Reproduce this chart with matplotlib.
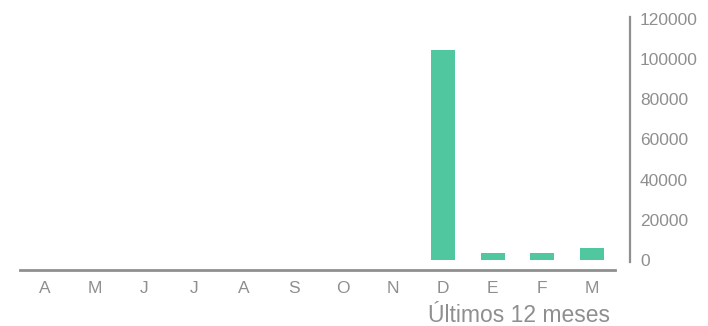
import matplotlib.pyplot as plt

meses = ["A", "M", "J", "J", "A", "S", "O", "N", "D", "E", "F", "M"]
valores = [0, 0, 0, 0, 0, 0, 0, 0, 104500, 3500, 3500, 6000]
yticks = [0, 20000, 40000, 60000, 80000, 100000, 120000]

cinza = "#8f8f8f"
verde = "#50c79f"

plt.rcParams["font.family"] = ["Liberation Sans", "DejaVu Sans"]

fig = plt.figure(figsize=(7.08, 3.26), dpi=100)
ax = fig.add_axes([20 / 708, 56 / 326, 595 / 708, 253 / 326])

x = list(range(len(meses)))
ax.bar(x, valores, width=0.48, color=verde)

ax.set_xlim(-0.5, 11.46)
ax.set_ylim(-5000, 121000)

ax.set_xticks(x)
ax.set_xticklabels(meses)
ax.set_yticks(yticks)

for s in ["top", "left"]:
    ax.spines[s].set_visible(False)
ax.spines["bottom"].set_color(cinza)
ax.spines["bottom"].set_linewidth(2)
ax.spines["right"].set_color(cinza)
ax.spines["right"].set_linewidth(1.6)
ax.spines["right"].set_position(("outward", 11))
ax.spines["right"].set_bounds(-800, 121000)

ax.yaxis.tick_right()
ax.tick_params(axis="y", length=0, pad=7, labelsize=12.5, labelcolor=cinza)
ax.tick_params(axis="x", length=0, pad=8, labelsize=12.5, labelcolor=cinza)

ax.set_xlabel("Últimos 12 meses", loc="right", fontsize=16.5, color=cinza)
ax.xaxis.set_label_coords(590 / 595, -0.135)

fig.savefig("out.png", dpi=100)
